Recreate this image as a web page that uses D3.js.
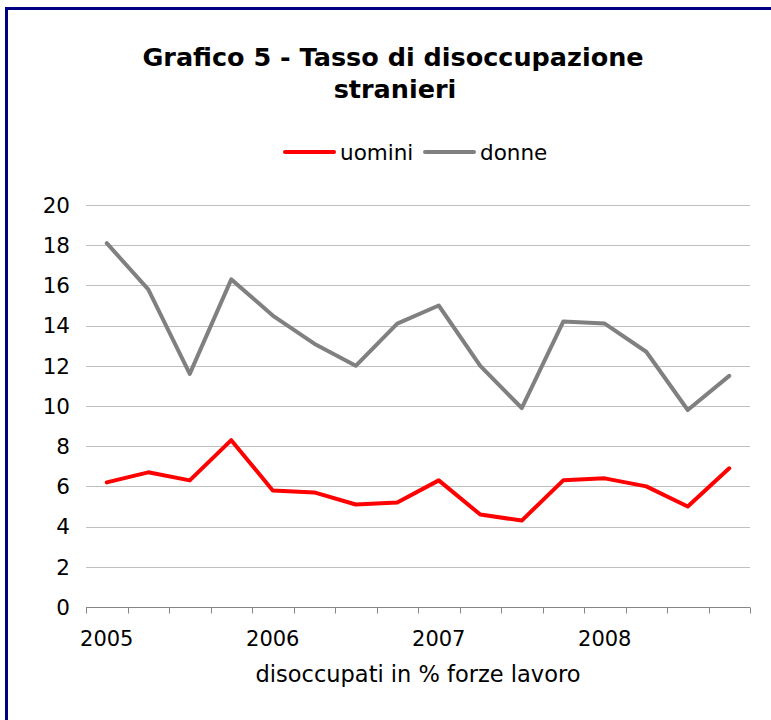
<!DOCTYPE html>
<html>
<head>
<meta charset="utf-8">
<script src="https://cdn.jsdelivr.net/npm/d3@7"></script>
<style>
  body { margin: 0; background: #fff; }
  svg { display: block; font-family: 'DejaVu Sans', Verdana, sans-serif; }
</style>
</head>
<body>
<div id="chart"></div>
<script>
// quarterly data 2005-2008
const quarters = ['2005 T1', '2005 T2', '2005 T3', '2005 T4',
  '2006 T1', '2006 T2', '2006 T3', '2006 T4',
  '2007 T1', '2007 T2', '2007 T3', '2007 T4',
  '2008 T1', '2008 T2', '2008 T3', '2008 T4'];
const yearLabels = ['2005', '', '', '', '2006', '', '', '', '2007', '', '', '', '2008', '', '', ''];
const uomini = [6.2, 6.7, 6.3, 8.3, 5.8, 5.7, 5.1, 5.2, 6.3, 4.6, 4.3, 6.3, 6.4, 6.0, 5.0, 6.9];
const donne = [18.1, 15.8, 11.6, 16.3, 14.5, 13.1, 12.0, 14.1, 15.0, 12.0, 9.9, 14.2, 14.1, 12.7, 9.8, 11.5];
const yTicks = [0, 2, 4, 6, 8, 10, 12, 14, 16, 18, 20];
const seriesNames = ['uomini', 'donne'];

const w = 771, h = 720;
const plotLeft = 86, plotRight = 750, plotTop = 205, plotBottom = 607;
const colors = { uomini: '#ff0000', donne: '#808080' };

const svg = d3.select('#chart').append('svg')
  .attr('width', w)
  .attr('height', h);

// frame (only top and left visible)
svg.append('path')
  .attr('d', `M6.5,${h} V8.5 H${w}`)
  .attr('fill', 'none')
  .attr('stroke', '#000080')
  .attr('stroke-width', 3);

svg.append('text')
  .attr('x', 393)
  .attr('y', 66)
  .attr('text-anchor', 'middle')
  .style('font-weight', 'bold')
  .style('font-size', '25.5px')
  .text('Grafico 5 - Tasso di disoccupazione');

svg.append('text')
  .attr('x', 395)
  .attr('y', 98)
  .attr('text-anchor', 'middle')
  .style('font-weight', 'bold')
  .style('font-size', '25.5px')
  .text('stranieri');

const x = d3.scaleBand()
  .domain(quarters)
  .range([plotLeft, plotRight]);

const y = d3.scaleLinear()
  .domain([0, 20])
  .range([plotBottom, plotTop]);

// gridlines
svg.append('g')
  .selectAll('line')
  .data(yTicks.filter(d => d > 0))
  .join('line')
  .attr('x1', plotLeft)
  .attr('x2', plotRight)
  .attr('y1', d => Math.round(y(d)) + 0.5)
  .attr('y2', d => Math.round(y(d)) + 0.5)
  .attr('stroke', '#c0c0c0')
  .attr('stroke-width', 1);

// y labels
svg.append('g')
  .selectAll('text')
  .data(yTicks)
  .join('text')
  .attr('x', 70)
  .attr('y', d => y(d))
  .attr('dy', '0.36em')
  .attr('text-anchor', 'end')
  .style('font-size', '21.5px')
  .style('fill', '#000')
  .text(d => d);

// x axis
const xAxis = svg.append('g')
  .attr('transform', `translate(0, ${Math.round(y(0)) + 0.5})`);

xAxis.append('line')
  .attr('x1', plotLeft)
  .attr('x2', plotRight)
  .attr('stroke', '#868686');

const bounds = quarters.map(q => x(q)).concat([plotRight]);
xAxis.selectAll('.tick')
  .data(bounds)
  .join('line')
  .attr('class', 'tick')
  .attr('x1', d => Math.round(d) + 0.5)
  .attr('x2', d => Math.round(d) + 0.5)
  .attr('y1', 0)
  .attr('y2', 6)
  .attr('stroke', '#868686');

xAxis.selectAll('.lab')
  .data(quarters)
  .join('text')
  .attr('class', 'lab')
  .attr('x', d => x(d) + x.bandwidth() / 2)
  .attr('y', 38)
  .attr('text-anchor', 'middle')
  .style('font-size', '21px')
  .text((d, i) => yearLabels[i]);

svg.append('text')
  .attr('x', 418)
  .attr('y', 682)
  .attr('text-anchor', 'middle')
  .style('font-size', '22.5px')
  .text('disoccupati in % forze lavoro');

// lines
const line = d3.line()
  .x((d, i) => x(quarters[i]) + x.bandwidth() / 2)
  .y(d => y(d));

svg.append('path')
  .datum(donne)
  .attr('d', line)
  .attr('fill', 'none')
  .attr('stroke', colors.donne)
  .attr('stroke-width', 4)
  .attr('stroke-linejoin', 'round')
  .attr('stroke-linecap', 'round');

svg.append('path')
  .datum(uomini)
  .attr('d', line)
  .attr('fill', 'none')
  .attr('stroke', colors.uomini)
  .attr('stroke-width', 4)
  .attr('stroke-linejoin', 'round')
  .attr('stroke-linecap', 'round');

// legend
const legendPos = { uomini: 285, donne: 425 };
const legend = svg.append('g')
  .selectAll('g')
  .data(seriesNames)
  .join('g')
  .attr('transform', d => `translate(${legendPos[d]}, 152)`);

legend.append('line')
  .attr('x1', 0)
  .attr('x2', 49)
  .attr('stroke', d => colors[d])
  .attr('stroke-width', 4)
  .attr('stroke-linecap', 'round');

legend.append('text')
  .attr('x', 55)
  .attr('dy', '0.36em')
  .style('font-size', '21.5px')
  .text(d => d);
</script>
</body>
</html>
